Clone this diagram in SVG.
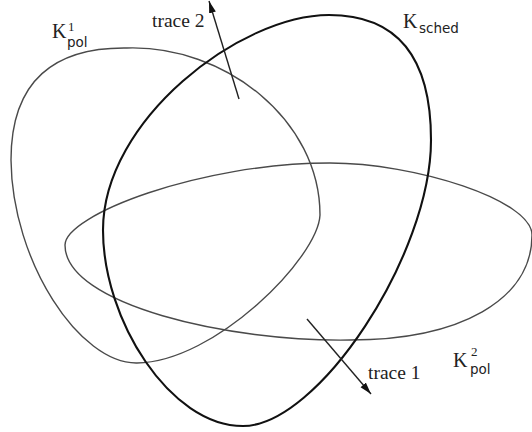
<svg xmlns="http://www.w3.org/2000/svg" width="532" height="432" viewBox="0 0 532 432">
<style>
.thin{fill:none;stroke:#4a4a4a;stroke-width:1.4}
.thick{fill:none;stroke:#111;stroke-width:2.1}
.arr{fill:none;stroke:#222;stroke-width:1.4}
.k{font-family:"Liberation Serif",serif;font-size:20px;fill:#222}
.sup{font-family:"Liberation Serif",serif;font-size:13px;fill:#222}
.sub{font-family:"DejaVu Sans",sans-serif;font-size:13.5px;fill:#222}
.lbl{font-family:"Liberation Serif",serif;font-size:19.5px;fill:#222}
</style>
<defs>
<marker id="ah" markerUnits="userSpaceOnUse" markerWidth="14" markerHeight="10" refX="12" refY="4" orient="auto">
<path d="M0,0.5 L12,4 L0,7.5 Z" fill="#111"/>
</marker>
</defs>
<g id="kpol1">
<path class="thin" d="M127,48 C225,45 320,120 320,215 C318,258 215,362 137,363 C80,364 12,262 11,160 C11,80 55,47 127,48 Z"/>
<text class="k" x="52" y="38">K</text>
<text class="sup" x="68" y="31">1</text>
<text class="sub" x="67" y="47">pol</text>
</g>
<g id="kpol2">
<path class="thin" d="M65,245 C65,215 200,163 330,163 C415,163 532,200 532,235 C532,300 460,340 350,340 C230,342 65,305 65,245 Z"/>
<text class="k" x="453" y="367">K</text>
<text class="sup" x="471" y="356">2</text>
<text class="sub" x="470" y="374">pol</text>
</g>
<g id="ksched">
<path class="thick" d="M329,15 C400,15 431,60 431,140 C431,255 318,426 243,426 C170,426 103,320 103,230 C103,120 240,15 329,15 Z"/>
<text class="k" x="403" y="28">K</text>
<text class="sub" x="419" y="33">sched</text>
</g>
<g id="connectors">
<path class="arr" d="M239,99 L209,1" marker-end="url(#ah)"/>
<path class="arr" d="M307,319 L371,394" marker-end="url(#ah)"/>
</g>
<g id="trace2"><text class="lbl" x="152" y="27">trace 2</text></g>
<g id="trace1"><text class="lbl" x="368" y="379">trace 1</text></g>
</svg>
